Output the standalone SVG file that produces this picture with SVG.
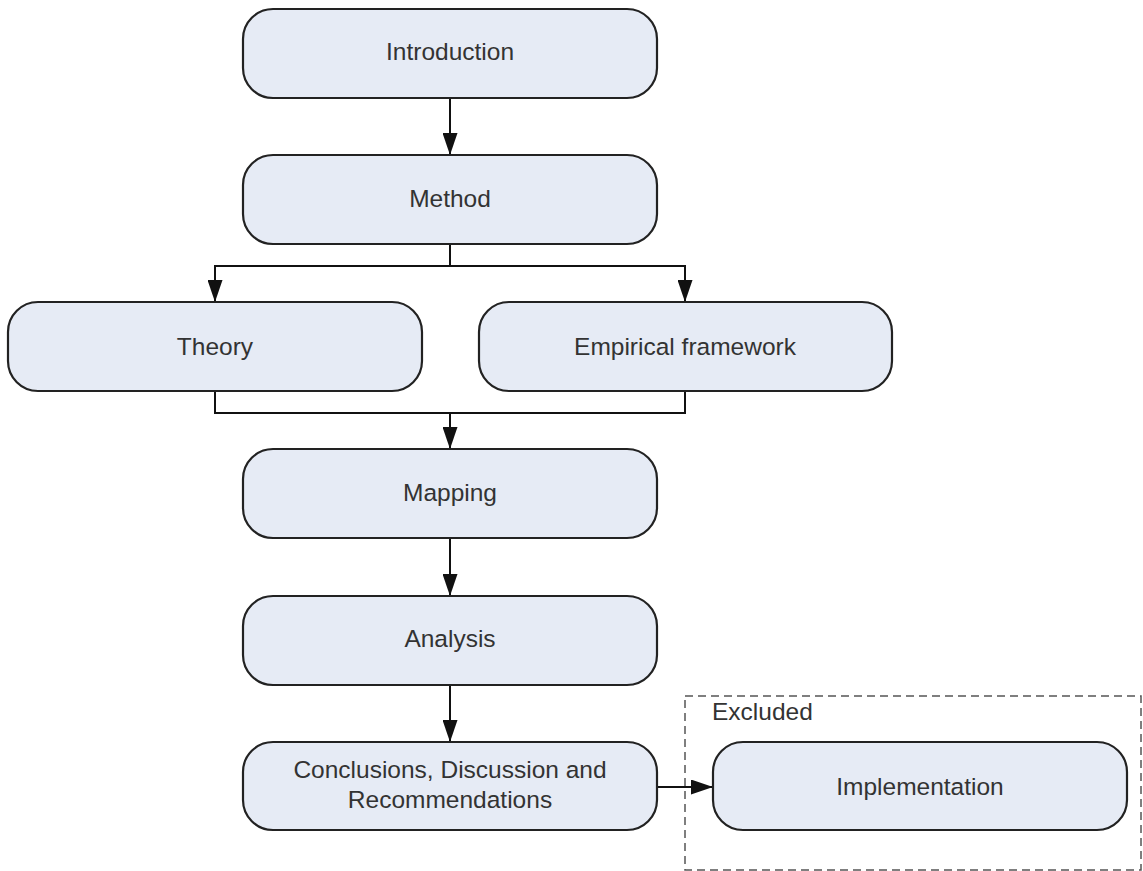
<svg xmlns="http://www.w3.org/2000/svg" width="1143" height="871" viewBox="0 0 1143 871">
<style>
.box{fill:#e6ebf5;stroke:#222;stroke-width:2.2}
.lbl{font-family:"Liberation Sans",Arial,sans-serif;font-size:24.5px;fill:#333;text-anchor:middle}
.con{fill:none;stroke:#111;stroke-width:2}
</style>
<defs>
<marker id="ah" viewBox="0 0 22 15" refX="22" refY="7.5" markerWidth="22" markerHeight="15" markerUnits="userSpaceOnUse" orient="auto">
<path d="M0,0 L22,7.5 L0,15 Z" fill="#111"/>
</marker>
</defs>
<rect width="1143" height="871" fill="#fff"/>
<g id="excluded-group">
<rect x="685" y="696" width="456" height="174" fill="none" stroke="#555" stroke-width="1.5" stroke-dasharray="8,5"/>
<text x="712" y="720" class="lbl" style="text-anchor:start">Excluded</text>
</g>
<g id="connectors">
<line class="con" x1="450" y1="98" x2="450" y2="155" marker-end="url(#ah)"/>
<polyline class="con" points="450,244 450,266 215,266 215,302" marker-end="url(#ah)"/>
<polyline class="con" points="450,266 685,266 685,302" marker-end="url(#ah)"/>
<polyline class="con" points="215,391 215,413 685,413 685,391"/>
<line class="con" x1="450" y1="413" x2="450" y2="449" marker-end="url(#ah)"/>
<line class="con" x1="450" y1="538" x2="450" y2="596" marker-end="url(#ah)"/>
<line class="con" x1="450" y1="685" x2="450" y2="742" marker-end="url(#ah)"/>
<line class="con" x1="657" y1="787" x2="713" y2="787" marker-end="url(#ah)"/>
</g>
<g id="introduction"><rect class="box" x="243" y="9" width="414" height="89" rx="30"/><text class="lbl" x="450" y="60">Introduction</text></g>
<g id="method"><rect class="box" x="243" y="155" width="414" height="89" rx="30"/><text class="lbl" x="450" y="207">Method</text></g>
<g id="theory"><rect class="box" x="8" y="302" width="414" height="89" rx="30"/><text class="lbl" x="215" y="355">Theory</text></g>
<g id="empirical"><rect class="box" x="479" y="302" width="413" height="89" rx="30"/><text class="lbl" x="685" y="355">Empirical framework</text></g>
<g id="mapping"><rect class="box" x="243" y="449" width="414" height="89" rx="30"/><text class="lbl" x="450" y="501">Mapping</text></g>
<g id="analysis"><rect class="box" x="243" y="596" width="414" height="89" rx="30"/><text class="lbl" x="450" y="647">Analysis</text></g>
<g id="conclusions"><rect class="box" x="243" y="742" width="414" height="88" rx="30"/><text class="lbl" x="450" y="778">Conclusions, Discussion and</text><text class="lbl" x="450" y="808">Recommendations</text></g>
<g id="implementation"><rect class="box" x="713" y="742" width="414" height="88" rx="30"/><text class="lbl" x="920" y="795">Implementation</text></g>
</svg>
